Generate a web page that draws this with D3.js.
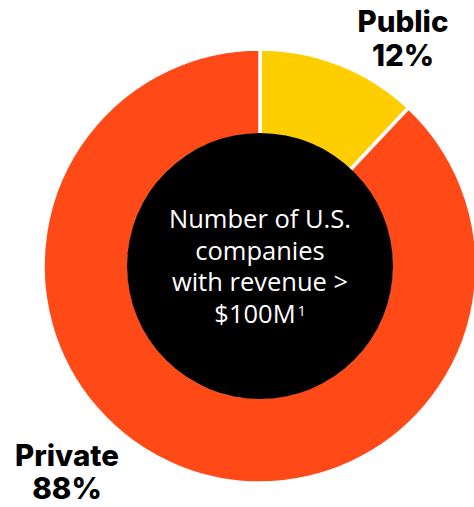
<!DOCTYPE html>
<html>
<head>
<meta charset="utf-8">
<script src="https://cdn.jsdelivr.net/npm/d3@7"></script>
<style>
  html, body { margin: 0; padding: 0; background: #fff; }
  svg { display: block; }
</style>
</head>
<body>
<div id="chart"></div>
<script>
// Share of U.S. companies with revenue > $100M, by ownership
const categories = ["Public", "Private"];
const shares = [12, 88];
const sliceColors = ["#FFCE00", "#FF4A17"];
const centerLines = ["Number of U.S.", "companies", "with revenue >", "$100M"];

const width = 474, height = 507;
const cx = 260, cy = 266;
const outerR = 217, innerR = 133;

const svg = d3.select("#chart").append("svg")
  .attr("width", width)
  .attr("height", height);

const data = categories.map((c, i) => ({ name: c, value: shares[i], color: sliceColors[i] }));

const pie = d3.pie().sort(null).value(d => d.value);
const arc = d3.arc().innerRadius(innerR - 2).outerRadius(outerR);

const g = svg.append("g").attr("transform", `translate(${cx},${cy})`);

g.selectAll("path.slice")
  .data(pie(data))
  .join("path")
  .attr("class", "slice")
  .attr("d", arc)
  .attr("fill", d => d.data.color)
  .attr("stroke", "#fff")
  .attr("stroke-width", 3.5)
  .attr("stroke-linejoin", "miter");

// black hub
g.append("circle")
  .attr("r", innerR)
  .attr("fill", "#000");

// hub caption
const hub = g.append("text")
  .attr("text-anchor", "middle")
  .attr("fill", "#fff")
  .style("font-family", "'Open Sans', sans-serif")
  .style("font-size", "25.5px")
  .style("font-weight", 400);

const baseY = -38, lineH = 31.7;
centerLines.forEach((line, i) => {
  const t = hub.append("tspan")
    .attr("x", 0)
    .attr("y", baseY + i * lineH)
    .text(line);
  if (i === centerLines.length - 1) {
    t.append("tspan")
      .attr("dy", -7)
      .attr("dx", 2)
      .style("font-size", "14px")
      .text("1");
  }
});

// slice labels
const labelPos = [
  { x: 403, y: 32 },
  { x: 67, y: 465.5 }
];
const labels = svg.selectAll("text.lbl")
  .data(data)
  .join("text")
  .attr("class", "lbl")
  .attr("text-anchor", "middle")
  .style("font-family", "Inter, sans-serif")
  .style("font-size", "29.5px")
  .style("font-weight", 800)
  .attr("fill", "#000");

labels.each(function(d, i) {
  const t = d3.select(this);
  t.append("tspan").attr("x", labelPos[i].x).attr("y", labelPos[i].y).text(d.name);
  t.append("tspan").attr("x", labelPos[i].x).attr("y", labelPos[i].y + 33.5).text(d.value + "%");
});
</script>
</body>
</html>
